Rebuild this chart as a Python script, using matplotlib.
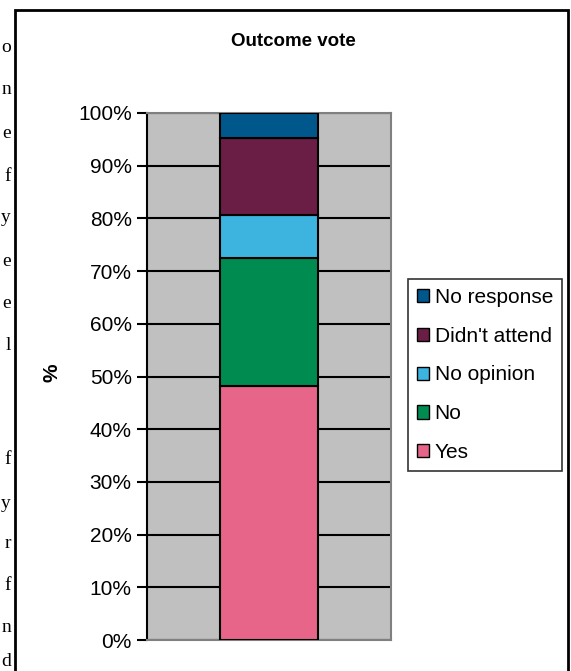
import matplotlib
matplotlib.use("Agg")
import matplotlib.pyplot as plt
from matplotlib.patches import Rectangle, Patch

# data (percent of votes)
categories = ["Yes", "No", "No opinion", "Didn't attend", "No response"]
values = [48.2, 24.3, 8.1, 14.6, 4.8]
colors = ["#E66588", "#008B51", "#3CB4DF", "#6B1E45", "#00578C"]
yticks = [0, 10, 20, 30, 40, 50, 60, 70, 80, 90, 100]
ytick_labels = ["%d%%" % v for v in yticks]

# letters of the surrounding document text at the left edge
side_letters = ["o", "n", "e", "f", "y", "e", "e", "l", "f", "y", "r", "f", "n", "d"]
side_rows = [47, 90, 133, 176, 218, 261, 303, 346, 460, 503, 544, 585, 628, 662]

W, H = 571, 671
fig = plt.figure(figsize=(W / 100, H / 100), dpi=100)
fig.patch.set_facecolor("white")

ax = fig.add_axes([147 / W, 31 / H, 244 / W, 527 / H])
ax.set_facecolor("#C0C0C0")

bottom = 0
for cat, val, col in zip(categories, values, colors):
    ax.bar(0, val, width=0.4, bottom=bottom, color=col, edgecolor="black",
           linewidth=1.5, label=cat, zorder=3)
    bottom += val

ax.set_xlim(-0.5, 0.5)
ax.set_ylim(0, 100)
ax.set_xticks([])
ax.set_yticks(yticks)
ax.set_yticklabels(ytick_labels, fontsize=15, family="Liberation Sans")
ax.tick_params(axis="y", direction="out", length=7, width=1.5, pad=4)
ax.yaxis.grid(True, color="black", linewidth=1.5, zorder=1)
ax.set_axisbelow(True)

for side in ["top", "right", "bottom"]:
    ax.spines[side].set_color("#808080")
    ax.spines[side].set_linewidth(1.5)
ax.spines["left"].set_color("black")
ax.spines["left"].set_linewidth(1.5)

fig.text(52 / W, 1 - 373 / H, "%", rotation=90, fontsize=15, fontweight="bold",
         family="Liberation Sans", ha="center", va="center")
fig.text(293 / W, 1 - 42 / H, "Outcome vote", fontsize=13.5, fontweight="bold",
         family="Liberation Sans", ha="center", va="center")

handles = [Patch(facecolor=c, edgecolor="black", linewidth=1) for c in colors[::-1]]
leg = fig.legend(handles, categories[::-1], loc="center",
                 bbox_to_anchor=(485 / W, 1 - 375 / H),
                 prop={"family": "Liberation Sans", "size": 15},
                 frameon=True, fancybox=False, edgecolor="black",
                 handlelength=0.6, handleheight=0.6, handletextpad=0.25,
                 labelspacing=0.95, borderpad=0.42, borderaxespad=0)
leg.get_frame().set_linewidth(1.2)

# chart border
fig.patches.append(Rectangle((15 / W, -0.05), 553 / W, 1.05 - 10 / H,
                             transform=fig.transFigure, fill=False,
                             edgecolor="black", linewidth=2))

for letter, row in zip(side_letters, side_rows):
    fig.text(11 / W, 1 - row / H, letter, fontsize=14, family="Liberation Serif",
             ha="right", va="center")

fig.savefig("out.png", dpi=100)
